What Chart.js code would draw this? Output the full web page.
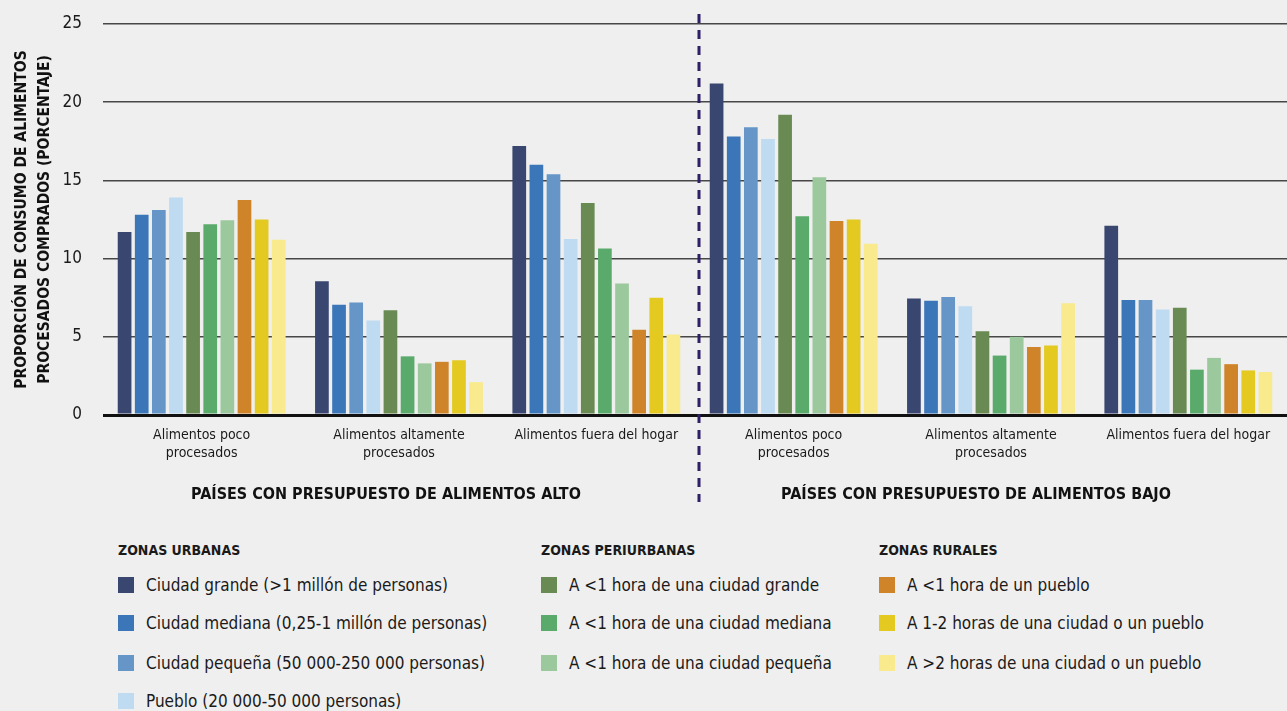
<!DOCTYPE html>
<html lang="es">
<head>
<meta charset="utf-8">
<title>Consumo de alimentos procesados comprados</title>
<script src="https://cdn.jsdelivr.net/npm/chart.js@4.4.1/dist/chart.umd.min.js"></script>
<style>
    html, body { margin: 0; padding: 0; background: #efefef; }
    body { width: 1287px; height: 711px; position: relative; overflow: hidden;
           font-family: "Liberation Sans Narrow", "DejaVu Sans Condensed", sans-serif; color: #1a1a1a; }
    #wrap { position: absolute; left: 0; top: 0; width: 1287px; height: 515px; }
    .zone { position: absolute; top: 541px; }
    .zone h4 { margin: 0; font-size: 14px; font-weight: bold; height: 18px; line-height: 18px; }
    .item { position: absolute; left: 0; white-space: nowrap; font-size: 17px; line-height: 20px; height: 20px; }
    .item span.sw { position: absolute; left: 0; top: 2px; width: 16px; height: 16px; }
    .item span.tx { position: absolute; left: 28px; top: 0; }
</style>
</head>
<body>
<div id="wrap"><canvas id="chart"></canvas></div>
<div id="legend"></div>
<script>
const categories = [
    ['Alimentos poco', 'procesados'],
    ['Alimentos altamente', 'procesados'],
    'Alimentos fuera del hogar',
    ['Alimentos poco', 'procesados'],
    ['Alimentos altamente', 'procesados'],
    'Alimentos fuera del hogar'
];
const budgetGroups = ['PAÍSES CON PRESUPUESTO DE ALIMENTOS ALTO', 'PAÍSES CON PRESUPUESTO DE ALIMENTOS BAJO'];
const yTicks = [0, 5, 10, 15, 20, 25];

const seriesNames = [
    'Ciudad grande (>1 millón de personas)',
    'Ciudad mediana (0,25-1 millón de personas)',
    'Ciudad pequeña (50 000-250 000 personas)',
    'Pueblo (20 000-50 000 personas)',
    'A <1 hora de una ciudad grande',
    'A <1 hora de una ciudad mediana',
    'A <1 hora de una ciudad pequeña',
    'A <1 hora de un pueblo',
    'A 1-2 horas de una ciudad o un pueblo',
    'A >2 horas de una ciudad o un pueblo'
];
const seriesColors = ['#394670', '#3b76b9', '#6596c7', '#bfdbf2', '#698a52', '#5aab6b', '#9bc89c', '#cf8429', '#e3c920', '#f8ea8d'];

const zoneTitles = ['ZONAS URBANAS', 'ZONAS PERIURBANAS', 'ZONAS RURALES'];
const zoneSizes = [4, 3, 3];

// values in %
const ciudadGrande  = [11.7, 8.55, 17.2, 21.2, 7.45, 12.1];
const ciudadMediana = [12.8, 7.05, 16.0, 17.8, 7.3, 7.35];
const ciudadPequena = [13.1, 7.2, 15.4, 18.4, 7.55, 7.35];
const pueblo        = [13.9, 6.05, 11.25, 17.65, 6.95, 6.75];
const periGrande    = [11.7, 6.7, 13.55, 19.2, 5.35, 6.85];
const periMediana   = [12.2, 3.75, 10.65, 12.7, 3.8, 2.9];
const periPequena   = [12.45, 3.3, 8.4, 15.2, 5.0, 3.65];
const ruralPueblo   = [13.75, 3.4, 5.45, 12.4, 4.35, 3.25];
const rural1a2      = [12.5, 3.5, 7.5, 12.5, 4.45, 2.85];
const ruralMas2     = [11.2, 2.1, 5.15, 10.95, 7.15, 2.75];

const seriesValues = [ciudadGrande, ciudadMediana, ciudadPequena, pueblo, periGrande,
    periMediana, periPequena, ruralPueblo, rural1a2, ruralMas2];

const FONT = '"Liberation Sans Narrow", "DejaVu Sans Condensed", sans-serif';

// dashed divider + the two group captions under the axis
const dividerPlugin = {
    id: 'divider',
    afterDraw(chart) {
        const ctx = chart.ctx;
        const x = chart.scales.x;
        const mid = (x.getPixelForValue(2) + x.getPixelForValue(3)) / 2 + 4;
        ctx.save();
        ctx.strokeStyle = '#2e1f66';
        ctx.lineWidth = 3;
        ctx.setLineDash([9, 7]);
        ctx.beginPath();
        ctx.moveTo(mid, 14);
        ctx.lineTo(mid, 502);
        ctx.stroke();
        ctx.setLineDash([]);

        ctx.fillStyle = '#111';
        ctx.font = 'bold 16px ' + FONT;
        ctx.textAlign = 'center';
        ctx.textBaseline = 'middle';
        ctx.fillText(budgetGroups[0], x.getPixelForValue(1) - 13, 495);
        ctx.fillText(budgetGroups[1], x.getPixelForValue(4) - 15, 495);
        ctx.restore();
    }
};

document.addEventListener('DOMContentLoaded', () => {

    const canvas = document.getElementById('chart');
    canvas.width = 1287;
    canvas.height = 515;

    new Chart(canvas.getContext('2d'), {
        type: 'bar',
        data: {
            labels: categories,
            datasets: seriesNames.map((name, i) => ({
                label: name,
                data: seriesValues[i],
                backgroundColor: seriesColors[i],
                borderWidth: 0,
                categoryPercentage: 0.868,
                barPercentage: 0.8
            }))
        },
        options: {
            responsive: false,
            animation: false,
            layout: { padding: { top: 24, right: 0, left: 0, bottom: 0 } },
            plugins: {
                legend: { display: false },
                tooltip: { enabled: false }
            },
            scales: {
                x: {
                    grid: { display: false, drawTicks: false },
                    border: { display: false },
                    ticks: {
                        color: '#1a1a1a',
                        padding: 11,
                        maxRotation: 0,
                        autoSkip: false,
                        font: { family: FONT, size: 14, lineHeight: '18px' }
                    },
                    afterFit(scale) {
                        scale.height = 100;
                        scale.paddingLeft = 0;
                        scale.paddingRight = 0;
                    }
                },
                y: {
                    min: 0,
                    max: 25,
                    afterBuildTicks(scale) { scale.ticks = yTicks.map(v => ({ value: v })); },
                    grid: {
                        drawTicks: false,
                        color: ctx => ctx.tick.value === 0 ? '#111' : '#474747',
                        lineWidth: ctx => ctx.tick.value === 0 ? 3 : 1.4
                    },
                    border: { display: false },
                    ticks: {
                        color: '#1a1a1a',
                        padding: 21,
                        font: { family: FONT, size: 17 }
                    },
                    title: {
                        display: true,
                        text: ['PROPORCIÓN DE CONSUMO DE ALIMENTOS', 'PROCESADOS COMPRADOS (PORCENTAJE)'],
                        color: '#111',
                        padding: { top: 10, bottom: 0 },
                        font: { family: FONT, size: 15.5, weight: 'bold', lineHeight: '23px' }
                    },
                    afterFit(scale) {
                        scale.width = 103;
                        scale.paddingTop = 0;
                        scale.paddingBottom = 0;
                    }
                }
            }
        },
        plugins: [dividerPlugin]
    });

    // legend, three zone columns
    const legend = document.getElementById('legend');
    const colLeft = [118, 541, 879];
    const rowTop = [575, 613, 653, 691];
    let k = 0;
    zoneTitles.forEach((title, c) => {
        const col = document.createElement('div');
        col.className = 'zone';
        col.style.left = colLeft[c] + 'px';
        col.innerHTML = `<h4>${title}</h4>`;
        for (let r = 0; r < zoneSizes[c]; r++, k++) {
            const item = document.createElement('div');
            item.className = 'item';
            item.style.top = (rowTop[r] - 541) + 'px';
            item.innerHTML = `<span class="sw" style="background:${seriesColors[k]}"></span><span class="tx"></span>`;
            item.querySelector('.tx').textContent = seriesNames[k];
            col.appendChild(item);
        }
        legend.appendChild(col);
    });
});
</script>
</body>
</html>
